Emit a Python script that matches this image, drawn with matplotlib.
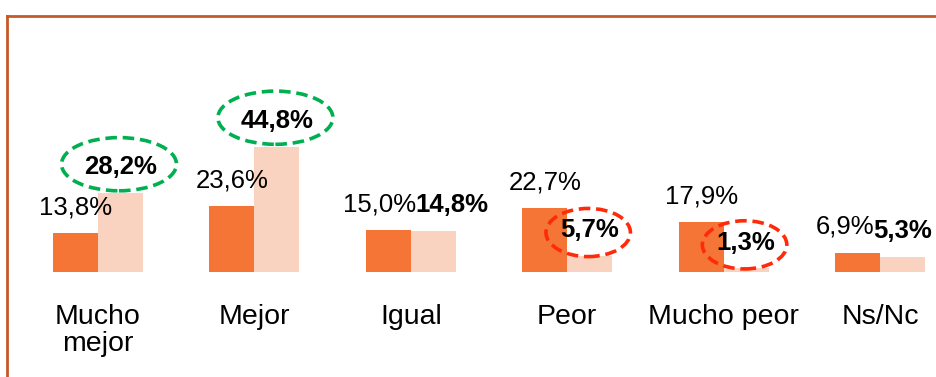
import matplotlib.pyplot as plt
from matplotlib.patches import Ellipse
from matplotlib.lines import Line2D

# datos de la encuesta: dos series por categoria
categorias = ["Mucho\nmejor", "Mejor", "Igual", "Peor", "Mucho peor", "Ns/Nc"]
serie_a = [13.8, 23.6, 15.0, 22.7, 17.9, 6.9]
serie_b = [28.2, 44.8, 14.8, 5.7, 1.3, 5.3]

# desplazamiento horizontal (en puntos) de algunas etiquetas para que no se pisen
desp_a = [0, 0, -6, 0, 0, -9]
desp_b = [0, 0, 13, 0, 0, 0]

# valores resaltados con elipse: indice, color
resaltados = [(0, "#00B050"), (1, "#00B050"), (3, "#FF2A0A"), (4, "#FF2A0A")]

plt.rcParams['font.family'] = ['Liberation Sans', 'DejaVu Sans']

oscuro = "#F47535"
claro = "#FAD3C0"
ancho = 0.288

fig = plt.figure(figsize=(9.36, 3.77), dpi=100)
ax = fig.add_axes([0, 0.2785, 1, 0.3714])

x = list(range(len(categorias)))
xa = [i - ancho / 2 for i in x]
xb = [i + ancho / 2 for i in x]
ax.bar(xa, serie_a, width=ancho, color=oscuro)
ax.bar(xb, serie_b, width=ancho, color=claro)

ax.set_xlim(-0.627, 5.358)
ax.set_ylim(0, 50)

for i in x:
    ax.annotate(f"{serie_a[i]:.1f}%".replace(".", ","), (xa[i], serie_a[i]),
                xytext=(desp_a[i], 13.5), textcoords="offset points",
                ha="center", va="baseline", fontsize=18.5, clip_on=False)
    ax.annotate(f"{serie_b[i]:.1f}%".replace(".", ","), (xb[i], serie_b[i]),
                xytext=(desp_b[i], 13.5), textcoords="offset points",
                ha="center", va="baseline", fontsize=18.5, fontweight="bold",
                clip_on=False)

# elipses discontinuas alrededor de los valores destacados
for i, col in resaltados:
    if col == "#00B050":
        w, h, dy = 0.735, 19.0, 10.3
    else:
        w, h, dy = 0.54, 17.2, 8.4
    e = Ellipse((xb[i] - 0.01, serie_b[i] + dy), w, h, fill=False,
                edgecolor=col, lw=2.6, ls=(0, (3.2, 1.6)), clip_on=False)
    ax.add_patch(e)

ax.set_xticks(x)
ax.set_xticklabels(categorias, fontsize=20.5, linespacing=1.05)
ax.tick_params(axis="x", length=0, pad=23)
ax.set_yticks([])
for s in ax.spines.values():
    s.set_visible(False)
ax.patch.set_alpha(0)

# marco del grafico
borde = "#C55A28"
fig.add_artist(Line2D([7 / 936, 1], [1 - 16 / 377, 1 - 16 / 377],
                      transform=fig.transFigure, color=borde, lw=2))
fig.add_artist(Line2D([7 / 936, 7 / 936], [0, 1 - 16 / 377],
                      transform=fig.transFigure, color=borde, lw=2))

fig.savefig("out.png", dpi=100)
